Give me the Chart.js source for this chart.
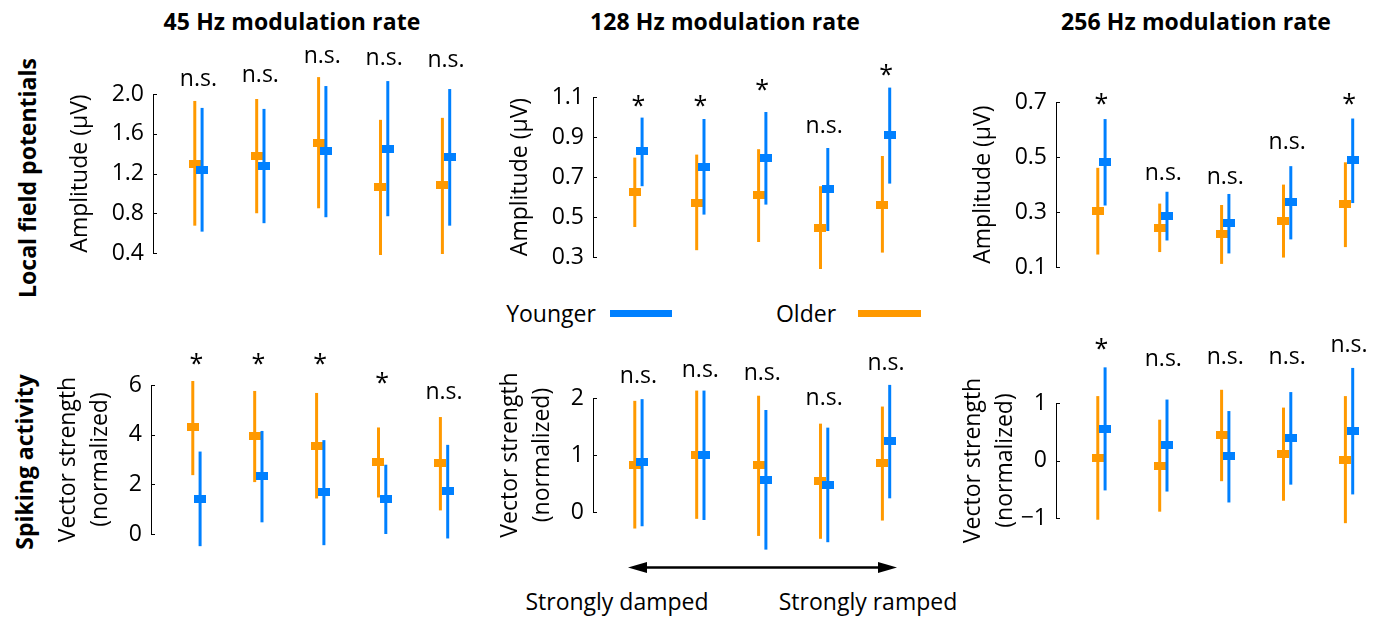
<!DOCTYPE html>
<html>
<head>
<meta charset="utf-8">
<script src="https://cdn.jsdelivr.net/npm/chart.js@4.4.1/dist/chart.umd.min.js"></script>
<style>
  body { margin: 0; background: #fff; }
  #fig { position: relative; width: 1379px; height: 617px; overflow: hidden; font-family: "Open Sans", sans-serif; color: #000; }
  #fig canvas { position: absolute; }
  .txt { position: absolute; white-space: nowrap; transform: translate(-50%, -50%); line-height: 1; }
  .title { font-weight: 700; font-size: 23px; letter-spacing: 0.1px; }
  .row { font-weight: 700; font-size: 23px; transform: translate(-50%, -50%) rotate(-90deg); }
  .plain { font-size: 23px; }
  .leg { position: absolute; height: 7px; }
</style>
</head>
<body>
<div id="fig">
  <div class="txt title" style="left:292px; top:21px">45 Hz modulation rate</div>
  <div class="txt title" style="left:725px; top:21px">128 Hz modulation rate</div>
  <div class="txt title" style="left:1196px; top:21px">256 Hz modulation rate</div>
  <div class="txt row" style="left:27px; top:178px">Local field potentials</div>
  <div class="txt row" style="left:24px; top:462px">Spiking activity</div>

  <div class="txt plain" style="left:551px; top:313px">Younger</div>
  <div class="leg" style="left:610px; top:310px; width:62px; background:#0080ff"></div>
  <div class="txt plain" style="left:806px; top:313px">Older</div>
  <div class="leg" style="left:858px; top:310px; width:63px; background:#ff9900"></div>

  <svg style="position:absolute; left:620px; top:555px" width="290" height="25">
    <line x1="24" y1="12.5" x2="258" y2="12.5" stroke="#000" stroke-width="2.5"/>
    <polygon points="8,12.5 27,7 27,18" fill="#000"/>
    <polygon points="277,12.5 258,7 258,18" fill="#000"/>
  </svg>
  <div class="txt plain" style="left:617px; top:601px">Strongly damped</div>
  <div class="txt plain" style="left:868px; top:601px">Strongly ramped</div>

  <canvas id="c1"></canvas>
  <canvas id="c2"></canvas>
  <canvas id="c3"></canvas>
  <canvas id="c4"></canvas>
  <canvas id="c5"></canvas>
  <canvas id="c6"></canvas>
</div>

<script>
// five conditions, from strongly damped (1) to strongly ramped (5)
const conditions = [1, 2, 3, 4, 5];

// each entry: [low end of bar, mean, high end of bar]
const lfp45Older   = [[0.675, 1.30, 1.93], [0.80, 1.38, 1.95], [0.85, 1.51, 2.17], [0.38, 1.06, 1.74], [0.39, 1.08, 1.76]];
const lfp45Younger = [[0.615, 1.235, 1.86], [0.70, 1.28, 1.85], [0.76, 1.43, 2.08], [0.77, 1.45, 2.13], [0.675, 1.37, 2.05]];
const lfp45Sig     = ['n.s.', 'n.s.', 'n.s.', 'n.s.', 'n.s.'];
const lfp45SigAt   = [2.14, 2.18, 2.37, 2.35, 2.33];

const lfp128Older   = [[0.45, 0.623, 0.797], [0.334, 0.572, 0.812], [0.375, 0.608, 0.839], [0.24, 0.447, 0.654], [0.322, 0.562, 0.805]];
const lfp128Younger = [[0.654, 0.829, 0.997], [0.512, 0.752, 0.99], [0.562, 0.795, 1.025], [0.43, 0.64, 0.845], [0.667, 0.909, 1.147]];
const lfp128Sig     = ['*', '*', '*', 'n.s.', '*'];
const lfp128SigAt   = [1.087, 1.087, 1.167, 0.95, 1.24];

const lfp256Older   = [[0.146, 0.304, 0.461], [0.155, 0.243, 0.331], [0.112, 0.219, 0.326], [0.135, 0.268, 0.40], [0.173, 0.328, 0.481]];
const lfp256Younger = [[0.324, 0.482, 0.638], [0.197, 0.285, 0.374], [0.15, 0.259, 0.366], [0.201, 0.335, 0.467], [0.333, 0.488, 0.64]];
const lfp256Sig     = ['*', 'n.s.', 'n.s.', 'n.s.', '*'];
const lfp256SigAt   = [0.714, 0.438, 0.423, 0.552, 0.714];

const spk45Older   = [[2.37, 4.29, 6.16], [2.09, 3.94, 5.76], [1.43, 3.56, 5.68], [1.47, 2.88, 4.29], [0.95, 2.84, 4.71]];
const spk45Younger = [[-0.49, 1.42, 3.32], [0.47, 2.32, 4.15], [-0.45, 1.68, 3.78], [0.0, 1.39, 2.79], [-0.18, 1.73, 3.59]];
const spk45Sig     = ['*', '*', '*', '*', 'n.s.'];
const spk45SigAt   = [7.07, 7.07, 7.07, 6.31, 5.68];

const spk128Older   = [[-0.29, 0.83, 1.95], [-0.12, 1.0, 2.13], [-0.42, 0.82, 2.04], [-0.47, 0.55, 1.55], [-0.15, 0.86, 1.85]];
const spk128Younger = [[-0.25, 0.87, 1.98], [-0.14, 1.0, 2.13], [-0.66, 0.57, 1.79], [-0.53, 0.48, 1.48], [0.24, 1.24, 2.23]];
const spk128Sig     = ['n.s.', 'n.s.', 'n.s.', 'n.s.', 'n.s.'];
const spk128SigAt   = [2.37, 2.48, 2.42, 1.98, 2.60];

const spk256Older   = [[-1.03, 0.046, 1.12], [-0.89, -0.09, 0.71], [-0.36, 0.44, 1.23], [-0.70, 0.12, 0.92], [-1.09, 0.017, 1.12]];
const spk256Younger = [[-0.52, 0.55, 1.62], [-0.54, 0.27, 1.06], [-0.73, 0.075, 0.86], [-0.42, 0.39, 1.19], [-0.59, 0.51, 1.61]];
const spk256Sig     = ['*', 'n.s.', 'n.s.', 'n.s.', 'n.s.'];
const spk256SigAt   = [2.05, 1.75, 1.79, 1.78, 1.99];

const BLUE = '#0080ff';
const ORANGE = '#ff9900';
const FONT = '"Open Sans", sans-serif';
const X_MIN = 0.266, X_MAX = 5.5, PLOT_W = 325, DODGE = 0.059;

const fixed1 = v => v.toFixed(1);
const evenOnly = v => (Math.abs(v % 2) < 1e-9 ? String(v) : '');
const intOnly = v => (Number.isInteger(v) ? (v < 0 ? '\u2212' + Math.abs(v) : String(v)) : '');

const panels = [
  {id: 'c1', older: lfp45Older, younger: lfp45Younger, sig: lfp45Sig, sigAt: lfp45SigAt,
   min: 0.4, max: 2.0, step: 0.4, fmt: fixed1, title: 'Amplitude (\u00b5V)',
   axisX: 153, yTop: 94, yBottom: 253, boxTop: 30, boxBottom: 290, w: 100},
  {id: 'c2', older: lfp128Older, younger: lfp128Younger, sig: lfp128Sig, sigAt: lfp128SigAt,
   min: 0.3, max: 1.1, step: 0.2, fmt: fixed1, title: 'Amplitude (\u00b5V)',
   axisX: 593, yTop: 97, yBottom: 257, boxTop: 30, boxBottom: 290, w: 100},
  {id: 'c3', older: lfp256Older, younger: lfp256Younger, sig: lfp256Sig, sigAt: lfp256SigAt,
   min: 0.1, max: 0.7, step: 0.2, fmt: fixed1, title: 'Amplitude (\u00b5V)',
   axisX: 1056, yTop: 102, yBottom: 273, boxTop: 30, boxBottom: 290, w: 100},
  {id: 'c4', older: spk45Older, younger: spk45Younger, sig: spk45Sig, sigAt: spk45SigAt,
   min: 0, max: 6, step: 1, fmt: evenOnly, title: ['Vector strength', '(normalized)'],
   axisX: 151, yTop: 385, yBottom: 534, boxTop: 330, boxBottom: 565, w: 110},
  {id: 'c5', older: spk128Older, younger: spk128Younger, sig: spk128Sig, sigAt: spk128SigAt,
   min: 0, max: 2, step: 0.5, fmt: intOnly, title: ['Vector strength', '(normalized)'],
   axisX: 593, yTop: 398, yBottom: 512, boxTop: 330, boxBottom: 565, w: 110},
  {id: 'c6', older: spk256Older, younger: spk256Younger, sig: spk256Sig, sigAt: spk256SigAt,
   min: -1, max: 1, step: 0.5, fmt: intOnly, title: ['Vector strength', '(normalized)'],
   axisX: 1056, yTop: 403, yBottom: 518, boxTop: 330, boxBottom: 565, w: 110}
];

function markerImage(color) {
  const c = document.createElement('canvas');
  c.width = 12;
  c.height = 8;
  const g = c.getContext('2d');
  g.fillStyle = color;
  g.fillRect(0, 0, 12, 8);
  return c;
}

// vertical bar for each point, drawn just before that dataset's markers
const errorBars = {
  id: 'errorBars',
  beforeDatasetDraw(chart, args) {
    const ds = chart.data.datasets[args.index];
    const {ctx, scales: {x, y}} = chart;
    ctx.save();
    ctx.strokeStyle = ds.barColor;
    ctx.lineWidth = 3;
    ds.ranges.forEach((r, i) => {
      const px = x.getPixelForValue(ds.data[i].x);
      ctx.beginPath();
      ctx.moveTo(px, y.getPixelForValue(r[0]));
      ctx.lineTo(px, y.getPixelForValue(r[2]));
      ctx.stroke();
    });
    ctx.restore();
  }
};

// MATLAB-style ticks pointing into the plot
const inwardTicks = {
  id: 'inwardTicks',
  afterDraw(chart) {
    const {ctx, chartArea, scales: {y}} = chart;
    ctx.save();
    ctx.strokeStyle = '#000';
    ctx.lineWidth = 1;
    y.ticks.forEach(t => {
      const py = Math.round(y.getPixelForValue(t.value)) + 0.5;
      ctx.beginPath();
      ctx.moveTo(chartArea.left, py);
      ctx.lineTo(chartArea.left + 4, py);
      ctx.stroke();
    });
    ctx.restore();
  }
};

function sigLabels(p) {
  return {
    id: 'sigLabels',
    afterDatasetsDraw(chart) {
      const {ctx, scales: {x, y}} = chart;
      ctx.save();
      ctx.fillStyle = '#000';
      ctx.textAlign = 'center';
      ctx.textBaseline = 'alphabetic';
      p.sig.forEach((s, i) => {
        const star = s === '*';
        const size = star ? 25 : 23;
        ctx.font = size + 'px ' + FONT;
        const px = x.getPixelForValue(conditions[i]);
        const py = y.getPixelForValue(p.sigAt[i]);
        ctx.fillText(s, px, py + (star ? 0.56 : 0.27) * size);
      });
      ctx.restore();
    }
  };
}

panels.forEach(p => {
  const canvas = document.getElementById(p.id);
  const width = p.w + PLOT_W + 4;
  const height = p.boxBottom - p.boxTop;
  canvas.width = width;
  canvas.height = height;
  canvas.style.left = (p.axisX - p.w) + 'px';
  canvas.style.top = p.boxTop + 'px';
  canvas.style.width = width + 'px';
  canvas.style.height = height + 'px';

  const twoLine = Array.isArray(p.title);

  new Chart(canvas.getContext('2d'), {
    type: 'scatter',
    data: {
      datasets: [
        {
          label: 'Younger',
          data: p.younger.map((r, i) => ({x: conditions[i] + DODGE, y: r[1]})),
          ranges: p.younger,
          barColor: BLUE,
          pointStyle: markerImage(BLUE),
          clip: false
        },
        {
          label: 'Older',
          data: p.older.map((r, i) => ({x: conditions[i] - DODGE, y: r[1]})),
          ranges: p.older,
          barColor: ORANGE,
          pointStyle: markerImage(ORANGE),
          clip: false
        }
      ]
    },
    options: {
      responsive: false,
      animation: false,
      devicePixelRatio: 1,
      events: [],
      layout: {padding: {left: 0, right: 4, top: p.yTop - p.boxTop, bottom: p.boxBottom - p.yBottom}},
      plugins: {legend: {display: false}, tooltip: {enabled: false}},
      scales: {
        x: {type: 'linear', min: X_MIN, max: X_MAX, display: false},
        y: {
          min: p.min,
          max: p.max,
          grid: {display: false, drawTicks: false},
          border: {display: true, color: '#000', width: 1},
          ticks: {stepSize: p.step, callback: p.fmt, color: '#000', padding: 9, font: {family: FONT, size: 23}},
          title: {
            display: true,
            text: p.title,
            color: '#000',
            font: {family: FONT, size: 23, lineHeight: twoLine ? 1.39 : 1.2},
            padding: {top: twoLine ? 11 : 14, bottom: 0}
          },
          afterFit: s => { s.width = p.w; }
        }
      }
    },
    plugins: [errorBars, inwardTicks, sigLabels(p)]
  });
});
</script>
</body>
</html>
